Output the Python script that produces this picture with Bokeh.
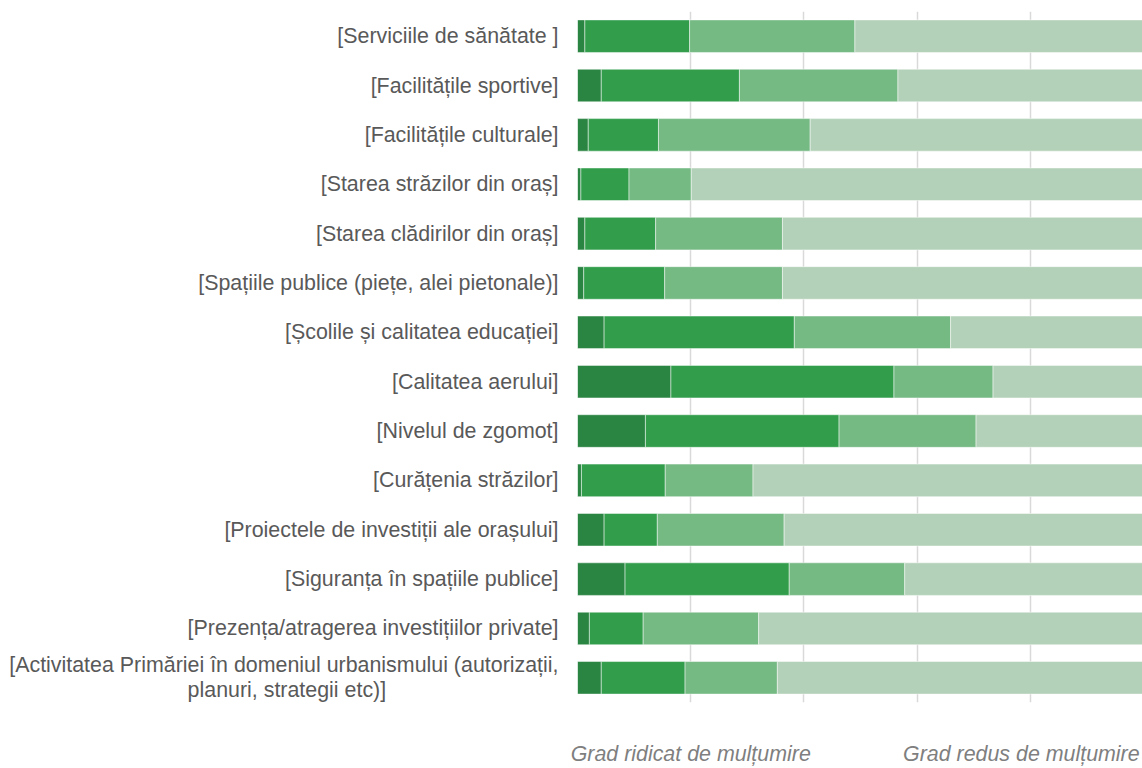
from bokeh.plotting import figure
from bokeh.models import FactorRange, Range1d, FixedTicker, ColumnDataSource
from bokeh.embed import file_html
from bokeh.resources import INLINE

categories = [
    "[Serviciile de sănătate ]",
    "[Facilitățile sportive]",
    "[Facilitățile culturale]",
    "[Starea străzilor din oraș]",
    "[Starea clădirilor din oraș]",
    "[Spațiile publice (piețe, alei pietonale)]",
    "[Școlile și calitatea educației]",
    "[Calitatea aerului]",
    "[Nivelul de zgomot]",
    "[Curățenia străzilor]",
    "[Proiectele de investiții ale orașului]",
    "[Siguranța în spațiile publice]",
    "[Prezența/atragerea investițiilor private]",
    "[Activitatea Primăriei în domeniul urbanismului (autorizații,\nplanuri, strategii etc)]",
]

foarte_multumit = [1.3, 4.2, 1.9, 0.6, 1.3, 1.1, 4.7, 16.5, 12.0, 0.7, 4.7, 8.4, 2.1, 4.2]
multumit = [18.5, 24.4, 12.4, 8.5, 12.5, 14.3, 33.6, 39.4, 34.2, 14.8, 9.4, 29.0, 9.5, 14.8]
putin_multumit = [29.2, 28.0, 26.8, 11.0, 22.4, 20.8, 27.6, 17.5, 24.2, 15.5, 22.4, 20.4, 20.4, 16.3]
nemultumit = [51.0, 43.4, 58.9, 79.9, 63.8, 63.8, 34.1, 26.6, 29.6, 69.0, 63.5, 42.2, 68.0, 64.7]

series = ["foarte", "multumit", "putin", "nemultumit"]
colors = ["#2a8442", "#329e4c", "#75b983", "#b3d1b8"]

grid_ticks = [0, 20, 40, 60, 80, 100]
bottom_ticks = [20, 78.4]
bottom_labels = ["Grad ridicat de mulțumire", "Grad redus de mulțumire"]

FONT = "Liberation Sans"
FS = "21.4px"

# axis tick labels are right-aligned line by line; pad the short second line
# of the two-line label with no-break spaces so it sits centred under the first
axis_labels = categories[:-1] + [categories[-1] + "\u00a0" * 29]

source = ColumnDataSource(dict(
    cat=axis_labels,
    foarte=foarte_multumit,
    multumit=multumit,
    putin=putin_multumit,
    nemultumit=nemultumit,
))

p = figure(
    width=1142, height=768,
    y_range=FactorRange(factors=list(reversed(axis_labels))),
    x_range=Range1d(0, 99.8),
    output_backend="svg", toolbar_location=None,
    min_border_left=577, min_border_right=0, min_border_top=11, min_border_bottom=63,
)
p.outline_line_color = None
p.background_fill_color = "white"

p.hbar_stack(series, y="cat", height=0.66, color=colors, source=source,
             line_color="white", line_width=0.8, line_alpha=0.6)

# y axis
p.yaxis.axis_line_color = None
p.yaxis.major_tick_line_color = None
p.yaxis.minor_tick_line_color = None
p.yaxis.major_tick_out = 0
p.yaxis.major_tick_in = 0
p.yaxis.major_label_text_font = FONT
p.yaxis.major_label_text_font_size = FS
p.yaxis.major_label_text_color = "#595959"
p.yaxis.major_label_text_line_height = 1.05
p.yaxis.major_label_standoff = 19
p.ygrid.grid_line_color = None

# x axis
p.xaxis.ticker = FixedTicker(ticks=bottom_ticks)
p.xaxis.major_label_overrides = {t: l for t, l in zip(bottom_ticks, bottom_labels)}
p.xaxis.axis_line_color = None
p.xaxis.major_tick_line_color = None
p.xaxis.minor_tick_line_color = None
p.xaxis.major_tick_out = 0
p.xaxis.major_tick_in = 0
p.xaxis.major_label_text_font = FONT
p.xaxis.major_label_text_font_size = FS
p.xaxis.major_label_text_font_style = "italic"
p.xaxis.major_label_text_color = "#7f7f7f"
p.xaxis.major_label_standoff = 39

p.xgrid.ticker = FixedTicker(ticks=grid_ticks)
p.xgrid.grid_line_color = "#d9d9d9"
p.xgrid.grid_line_width = 1.5

open("out.html", "w").write(file_html(p, INLINE))
